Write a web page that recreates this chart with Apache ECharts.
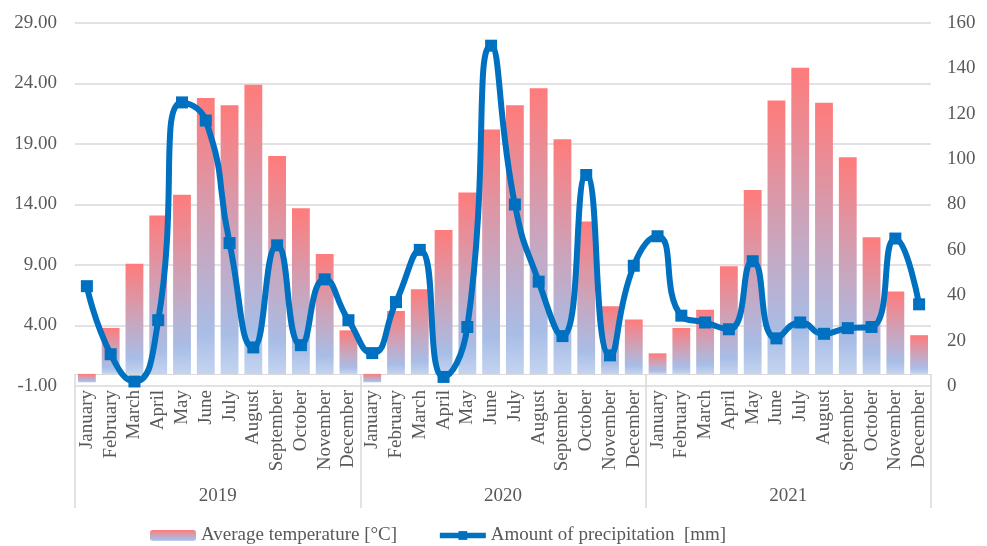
<!DOCTYPE html>
<html>
<head>
<meta charset="utf-8">
<script src="https://cdn.jsdelivr.net/npm/echarts@6/dist/echarts.min.js"></script>
<style>
  html, body { margin: 0; padding: 0; background: #fff; }
  #chart { width: 987px; height: 546px; }
</style>
</head>
<body>
<div id="chart"></div>
<script>
const months = ['January', 'February', 'March', 'April', 'May', 'June', 'July',
  'August', 'September', 'October', 'November', 'December']
const years = ['2019', '2020', '2021']
const categories = years.flatMap(() => months)

// average temperature [°C], left axis
const temp2019 = [-0.7, 3.8, 9.1, 13.1, 14.8, 22.8, 22.2, 23.9, 18.0, 13.7, 9.9, 3.6]
const temp2020 = [-0.7, 5.2, 7.0, 11.9, 15.0, 20.2, 22.2, 23.6, 19.4, 12.6, 5.6, 4.5]
const temp2021 = [1.7, 3.8, 5.3, 8.9, 15.2, 22.6, 25.3, 22.4, 17.9, 11.3, 6.8, 3.2]

// amount of precipitation [mm], right axis
const prec2019 = [44, 14, 2, 29, 125, 117, 63, 17, 62, 18, 47, 29]
const prec2020 = [14.5, 37, 60, 4, 26, 150, 80, 46, 22, 93, 13.5, 53]
const prec2021 = [66, 31, 28, 25, 55, 21, 28, 23, 25.5, 26, 65, 36]

const temperature = [...temp2019, ...temp2020, ...temp2021]
const precipitation = [...prec2019, ...prec2020, ...prec2021]

const font = 'Liberation Serif'
const textColor = '#595959'
const gridColor = '#d9d9d9'
const lineBlue = '#0070c0'

const chart = echarts.init(document.getElementById('chart'))

const barFill = new echarts.graphic.LinearGradient(0, 0, 0, 1, [
  { offset: 0, color: '#ff7b7b' },
  { offset: 0.5, color: '#cba4bb' },
  { offset: 0.85, color: '#a8bde6' },
  { offset: 1, color: '#c4d4f0' },
])

const option = {
  animation: false,
  textStyle: { fontFamily: font },
  grid: { left: 75, right: 56, top: 23, bottom: 160 },
  legend: {
    top: 521,
    left: 145,
    itemWidth: 46,
    itemHeight: 11,
    itemGap: 40,
    textStyle: { fontFamily: font, fontSize: 19, color: textColor },
    data: [
      { name: 'Average temperature [°C]' },
      { name: 'Amount of precipitation  [mm]', lineStyle: { width: 5.5 }, itemStyle: { color: lineBlue } },
    ],
  },
  xAxis: [
    {
      type: 'category',
      data: categories,
      axisLine: { onZero: false, show: false },
      axisTick: { show: false },
      axisLabel: {
        interval: 0,
        rotate: 90,
        margin: 4,
        fontFamily: font,
        fontSize: 19,
        color: textColor,
      },
    },
    {
      type: 'category',
      data: years,
      position: 'bottom',
      axisLine: { onZero: true, onZeroAxisIndex: 0, lineStyle: { color: gridColor, width: 1 } },
      axisTick: { show: true, interval: 0, length: 134, lineStyle: { color: gridColor, width: 1.5 } },
      axisLabel: {
        interval: 0,
        margin: 101,
        fontFamily: font,
        fontSize: 19,
        color: textColor,
      },
    },
  ],
  yAxis: [
    {
      type: 'value',
      min: -1,
      max: 29,
      interval: 5,
      axisLine: { show: false },
      axisTick: { show: false },
      splitLine: { lineStyle: { color: gridColor, width: 1.5 } },
      axisLabel: {
        formatter: v => v.toFixed(2),
        margin: 18,
        fontFamily: font,
        fontSize: 19,
        color: textColor,
      },
    },
    {
      type: 'value',
      min: 0,
      max: 160,
      interval: 20,
      axisLine: { show: false },
      axisTick: { show: false },
      splitLine: { show: false },
      axisLabel: {
        margin: 16,
        fontFamily: font,
        fontSize: 19,
        color: textColor,
      },
    },
  ],
  series: [
    {
      name: 'Average temperature [°C]',
      type: 'bar',
      xAxisIndex: 0,
      yAxisIndex: 0,
      data: temperature,
      barWidth: '75%',
      itemStyle: { color: barFill },
    },
    {
      name: 'Amount of precipitation  [mm]',
      type: 'line',
      xAxisIndex: 0,
      yAxisIndex: 1,
      data: precipitation,
      smooth: 0.55,
      symbol: 'rect',
      symbolSize: 12,
      lineStyle: { color: lineBlue, width: 6 },
      itemStyle: { color: lineBlue },
    },
  ],
}

chart.setOption(option)
</script>
</body>
</html>
